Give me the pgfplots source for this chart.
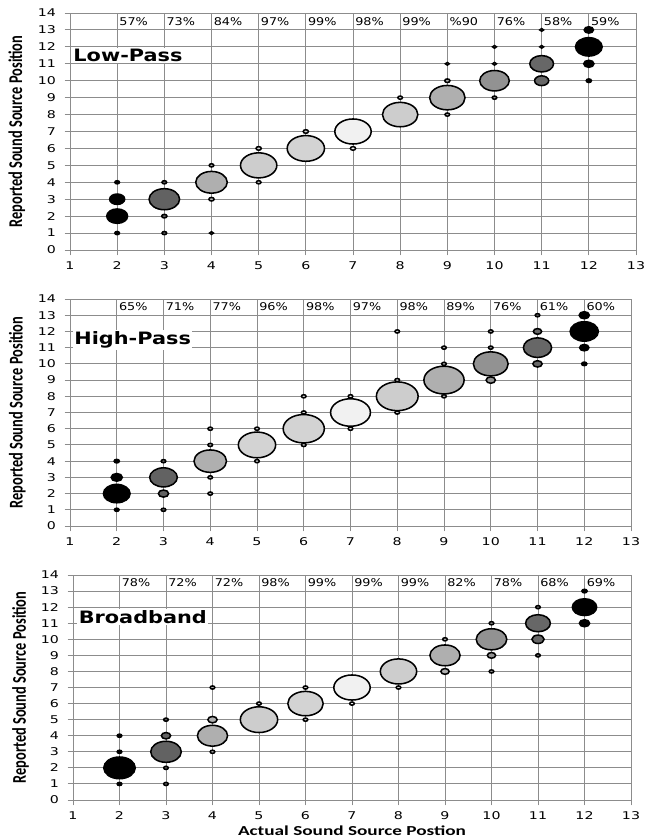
\documentclass[border=0pt]{standalone}
\usepackage{fontspec}
\usepackage{graphicx}
\usepackage{pgfplots}
\usepackage{pgfplotstable}
\pgfplotsset{compat=1.18}
\newfontfamily\tickf[FakeStretch=1.33]{DejaVu Sans}
\newfontfamily\pctf[FakeStretch=1.2]{DejaVu Sans}
\newfontfamily\titlef[FakeStretch=1.22]{DejaVu Sans}
\newfontfamily\labf[FakeStretch=1.4]{Carlito}
\newfontfamily\labn{Carlito}

% x y markersize gray
\pgfplotstableread{
x y s g
7 7 9.40 0.94
6 6 9.65 0.82
5 5 9.40 0.80
8 8 9.15 0.80
9 9 9.15 0.68
4 4 8.15 0.68
3 3 7.90 0.38
10 10 7.65 0.57
12 12 6.90 0.00
11 11 6.15 0.40
2 2 5.40 0.00
2 3 3.90 0.00
11 10 3.65 0.40
12 11 2.65 0.00
12 13 2.40 0.00
3 2 1.35 0.38
4 3 1.35 0.68
5 6 1.35 0.80
6 7 1.35 0.82
7 6 1.35 0.94
9 10 1.35 0.68
12 10 1.35 0.00
2 4 1.20 0.00
2 1 1.20 0.00
3 4 1.20 0.38
3 1 1.20 0.38
4 5 1.20 0.68
4 1 1.00 0.68
5 4 1.20 0.80
8 9 1.20 0.80
9 11 1.00 0.68
9 8 1.20 0.68
10 12 1.00 0.57
10 11 1.00 0.57
10 9 1.20 0.57
11 13 1.00 0.40
11 12 1.00 0.40
}\lowpass

\pgfplotstableread{
x y s g
8 8 10.80 0.80
6 6 10.65 0.82
9 9 10.40 0.68
7 7 10.30 0.94
5 5 9.65 0.82
10 10 9.00 0.57
4 4 8.40 0.68
11 11 7.30 0.40
12 12 7.30 0.00
3 3 7.15 0.38
2 2 6.90 0.00
2 3 2.90 0.00
3 2 2.65 0.38
12 13 2.65 0.00
10 9 2.40 0.57
11 10 2.40 0.40
12 11 2.40 0.00
11 12 2.15 0.40
2 4 1.35 0.00
12 10 1.35 0.00
2 1 1.20 0.00
3 4 1.20 0.38
3 1 1.20 0.38
4 6 1.20 0.68
4 5 1.20 0.68
4 3 1.20 0.68
4 2 1.20 0.68
5 6 1.20 0.82
5 4 1.20 0.82
6 8 1.20 0.82
6 7 1.20 0.82
6 5 1.20 0.82
7 8 1.20 0.94
7 6 1.20 0.94
8 12 1.20 0.80
8 9 1.20 0.80
8 7 1.20 0.80
9 11 1.20 0.68
9 10 1.20 0.68
9 8 1.20 0.68
10 12 1.20 0.57
10 11 1.20 0.57
11 13 1.20 0.40
}\highpass

\pgfplotstableread{
x y s g
5 5 9.65 0.80
7 7 9.40 0.94
8 8 9.40 0.80
6 6 9.15 0.82
2 2 8.15 0.00
3 3 7.90 0.38
10 10 7.90 0.57
4 4 7.80 0.68
9 9 7.80 0.68
11 11 6.40 0.40
12 12 6.30 0.00
11 10 3.15 0.40
12 11 2.65 0.00
3 4 2.40 0.38
4 5 2.40 0.68
9 8 2.15 0.68
10 9 2.15 0.57
12 13 1.35 0.00
2 4 1.20 0.00
2 3 1.20 0.00
2 1 1.20 0.00
3 5 1.20 0.38
3 2 1.20 0.38
3 1 1.20 0.38
4 7 1.20 0.68
4 3 1.20 0.68
5 6 1.20 0.80
6 7 1.20 0.82
6 5 1.20 0.82
7 6 1.20 0.94
8 7 1.20 0.80
9 10 1.20 0.68
10 11 1.20 0.57
10 8 1.20 0.57
11 12 1.20 0.40
11 9 1.20 0.40
}\broadband

\pgfplotstableread{
x y t
2 13.5 57\%
3 13.5 73\%
4 13.5 84\%
5 13.5 97\%
6 13.5 99\%
7 13.5 98\%
8 13.5 99\%
9 13.5 \%90
10 13.5 76\%
11 13.5 58\%
12 13.5 59\%
}\lppct

\pgfplotstableread{
x y t
2 13.5 65\%
3 13.5 71\%
4 13.5 77\%
5 13.5 96\%
6 13.5 98\%
7 13.5 97\%
8 13.5 98\%
9 13.5 89\%
10 13.5 76\%
11 13.5 61\%
12 13.5 60\%
}\hppct

\pgfplotstableread{
x y t
2 13.5 78\%
3 13.5 72\%
4 13.5 72\%
5 13.5 98\%
6 13.5 99\%
7 13.5 99\%
8 13.5 99\%
9 13.5 82\%
10 13.5 78\%
11 13.5 68\%
12 13.5 69\%
}\bbpct

\definecolor{gridgray}{RGB}{140,140,140}

\tikzset{ttl/.style={anchor=west, fill=white, inner sep=1pt,
    font=\titlef\bfseries\fontsize{12.8}{14}\selectfont}}

\pgfplotsset{
  panel/.style={
    scale only axis,
    xmin=1, xmax=13, ymin=0, ymax=14,
    xtick={1,...,13}, ytick={0,...,14},
    grid=major,
    grid style={draw=gridgray, line width=0.7pt},
    axis line style={draw=gridgray, line width=0.7pt},
    tick style={draw=gridgray, line width=0.7pt},
    tick align=outside, major tick length=4pt, tick pos=left,
    tick label style={font=\tickf\fontsize{8}{9}\selectfont, text=black},
    yticklabel style={xshift=-3pt},
    xticklabel style={yshift=-1.5pt},
    /pgf/number format/assume math mode=true,
    colormap={bw}{gray(0cm)=(0); gray(1cm)=(1)},
    point meta min=0, point meta max=1,
    clip=false,
    ylabel={\scalebox{1}[1.35]{Reported Sound Source Position}},
    ylabel style={font=\labn\bfseries\fontsize{10.8}{12}\selectfont,
      at={(axis description cs:-0.094,0.5)}, anchor=center},
  },
  bubbles/.style={
    scatter, only marks, mark=*, line width=1.15pt,
    scatter/use mapped color={draw=black, fill=mapped color},
    point meta=explicit,
    visualization depends on={\thisrow{s}\as\msize},
    scatter/@pre marker code/.append style={/tikz/mark size=\msize},
    mark options={xscale=1.45},
  },
  pcts/.style={
    draw=none, mark=none, nodes near coords,
    point meta=explicit symbolic,
    nodes near coords style={anchor=west, inner sep=1.5pt,
      font=\pctf\fontsize{8}{9}\selectfont, text=black},
  },
}

\begin{document}
\begin{tikzpicture}
\path[use as bounding box] (0,0) rectangle (484.5pt,-628.5pt);

% Low-Pass
\begin{axis}[panel, at={(52.5pt,-187.5pt)}, anchor=south west,
  width=424.5pt, height=177.75pt]
\addplot[bubbles] table[x=x, y=y, meta=g] {\lowpass};
\addplot[pcts] table[x=x, y=y, meta=t] {\lppct};
\node[ttl] at (axis cs:1.04,11.49) {Low-Pass};
\end{axis}

% High-Pass
\begin{axis}[panel, at={(52.5pt,-394.5pt)}, anchor=south west,
  width=420.75pt, height=170.25pt]
\addplot[bubbles] table[x=x, y=y, meta=g] {\highpass};
\addplot[pcts] table[x=x, y=y, meta=t] {\hppct};
\node[ttl] at (axis cs:1.06,11.47) {High-Pass};
\end{axis}

% Broadband
\begin{axis}[panel, at={(54.75pt,-600pt)}, anchor=south west,
  width=418.5pt, height=168.75pt,
  xlabel={Actual Sound Source Postion},
  xlabel style={font=\labf\bfseries\fontsize{10.3}{12}\selectfont,
    inner sep=0pt, at={(axis description cs:0.5,-0.158)}, anchor=base}]
\addplot[bubbles] table[x=x, y=y, meta=g] {\broadband};
\addplot[pcts] table[x=x, y=y, meta=t] {\bbpct};
\node[ttl] at (axis cs:1.09,11.4) {Broadband};
\end{axis}
\end{tikzpicture}
\end{document}
